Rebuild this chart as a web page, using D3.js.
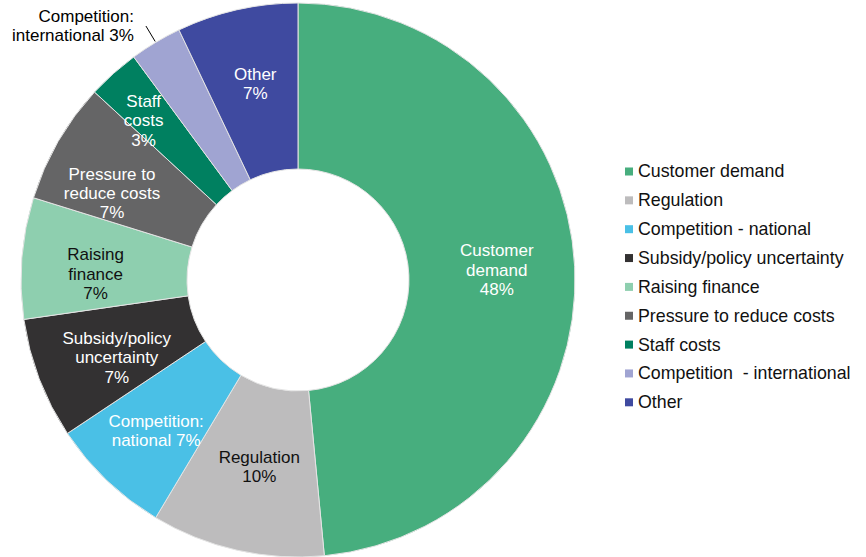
<!DOCTYPE html>
<html>
<head>
<meta charset="utf-8">
<script src="https://cdn.jsdelivr.net/npm/d3@7"></script>
<style>
  html, body { margin: 0; padding: 0; background: #fff; }
  svg { display: block; font-family: Arial, "Liberation Sans", sans-serif; }
</style>
</head>
<body>
<svg id="chart" width="866" height="557"></svg>
<script>
// Survey shares by category, clockwise from twelve o'clock
const categories = [
  "Customer demand", "Regulation", "Competition - national",
  "Subsidy/policy uncertainty", "Raising finance", "Pressure to reduce costs",
  "Staff costs", "Competition  - international", "Other"
];
const shares = [48, 10, 7, 7, 7, 7, 3, 3, 7];
const colours = [
  "#47ae7e", "#bdbcbd", "#4ac0e6", "#333132", "#8ecfaf",
  "#656566", "#008060", "#a0a4d2", "#3f4aa0"
];
// In-slice label lines (the number line is appended from shares)
const labelLines = [
  ["Customer", "demand"], ["Regulation"], ["Competition:", "national"],
  ["Subsidy/policy", "uncertainty"], ["Raising", "finance"], ["Pressure to", "reduce costs"],
  ["Staff", "costs"], ["Competition:", "international"], ["Other"]
];
const labelColours = ["#fff", "#111", "#fff", "#fff", "#111", "#fff", "#fff", "#111", "#fff"];

// ---- layout ----
const W = 866, H = 557;
const cx = 298, cy = 280;
const outerR = 277, innerR = 111;
const midR = (outerR + innerR) / 2;
const fontSize = 17, lineH = 19.4;
// small per-slice adjustments of label anchors away from the arc centroid
const nudge = [[5, -1], [4, -3], [-8, 10], [0, 8], [-9, 9], [-18, 10], [-25, -15], [0, 0], [0, -7]];

const data = categories.map((c, i) => ({
  name: c, value: shares[i], colour: colours[i],
  lines: labelLines[i], textColour: labelColours[i], idx: i
}));

const svg = d3.select("#chart");
const g = svg.append("g").attr("transform", `translate(${cx},${cy})`);

const pie = d3.pie().value(d => d.value).sort(null);
const arc = d3.arc().innerRadius(innerR).outerRadius(outerR);
const labelArc = d3.arc().innerRadius(midR).outerRadius(midR);
const arcs = pie(data);

g.selectAll("path.slice")
  .data(arcs)
  .join("path")
  .attr("class", "slice")
  .attr("d", arc)
  .attr("fill", d => d.data.colour)
  .attr("stroke", "#e4e4e4")
  .attr("stroke-width", 1);

// labels inside the ring
const inside = arcs.filter(d => d.data.value >= 3 && d.data.idx !== 7);
inside.forEach(d => {
  const [x, y] = labelArc.centroid(d);
  const [nx, ny] = nudge[d.data.idx];
  const pct = d.data.value + "%";
  let lines = d.data.lines.slice();
  if (lines.length === 2 && d.data.name === "Competition - national") {
    lines = [lines[0], lines[1] + " " + pct];
  } else {
    lines.push(pct);
  }
  const t = g.append("text")
    .attr("text-anchor", "middle")
    .attr("font-size", fontSize)
    .attr("fill", d.data.textColour);
  const n = lines.length;
  lines.forEach((ln, k) => {
    t.append("tspan")
      .attr("x", x + nx)
      .attr("y", y + ny + (k - (n - 1) / 2) * lineH + 6)
      .text(ln);
  });
});

// outside label with leader line for the thin international slice
const ci = arcs[7];
const ang = (ci.startAngle + ci.endAngle) / 2;
const p0 = [Math.sin(ang) * (outerR + 1), -Math.cos(ang) * (outerR + 1)];
const p1 = [Math.sin(ang) * (outerR + 19), -Math.cos(ang) * (outerR + 19)];
g.append("line")
  .attr("x1", p0[0]).attr("y1", p0[1])
  .attr("x2", p1[0]).attr("y2", p1[1])
  .attr("stroke", "#000").attr("stroke-width", 1);
const ciText = g.append("text")
  .attr("text-anchor", "end")
  .attr("font-size", fontSize)
  .attr("fill", "#000");
ciText.append("tspan").attr("x", p1[0] - 12).attr("y", p1[1] - 4.5).text(labelLines[7][0]);
ciText.append("tspan").attr("x", p1[0] - 12).attr("y", p1[1] - 4.5 + lineH)
  .text(labelLines[7][1] + " " + shares[7] + "%");

// legend
const legend = svg.append("g").attr("transform", "translate(625,171)");
const rowH = 28.85;
const rows = legend.selectAll("g.row")
  .data(data)
  .join("g")
  .attr("class", "row")
  .attr("transform", (d, i) => `translate(0,${i * rowH})`);
rows.append("rect")
  .attr("x", 0).attr("y", -3.5)
  .attr("width", 8).attr("height", 8)
  .attr("fill", d => d.colour);
rows.append("text")
  .attr("x", 13).attr("y", 6.4)
  .attr("font-size", 17.8)
  .attr("fill", "#111")
  .attr("xml:space", "preserve")
  .style("white-space", "pre")
  .text(d => d.name);
</script>
</body>
</html>
